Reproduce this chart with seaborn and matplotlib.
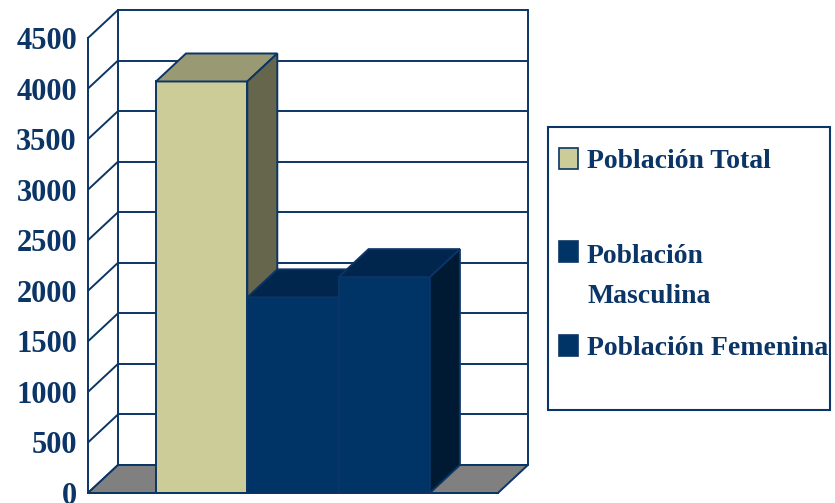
import matplotlib
matplotlib.use("Agg")
from matplotlib import pyplot as plt
from matplotlib.patches import Polygon, Rectangle
import seaborn as sns

# datos del grafico
categorias = ["Población Total", "Población Masculina", "Población Femenina"]
valores = [4070, 1935, 2135]
ticks_y = [0, 500, 1000, 1500, 2000, 2500, 3000, 3500, 4000, 4500]
leyenda = ["Población Total", "Población\nMasculina", "Población Femenina"]

colores_frente = ["#CCCC99", "#003366", "#003366"]
colores_tapa = ["#999973", "#00264D", "#00264D"]
colores_lado = ["#66664D", "#001A33", "#001A33"]
azul = "#0B3566"
gris_piso = "#808080"

sns.set_style("white")
plt.rcParams["font.family"] = ["Liberation Serif", "DejaVu Serif"]

W, H = 835, 503
fig = plt.figure(figsize=(W / 100, H / 100), dpi=100)
ax = fig.add_axes([88 / W, 10 / H, 440 / W, 483 / H])

sns.barplot(
    x=categorias,
    y=valores,
    hue=categorias,
    palette=colores_frente,
    width=1,
    saturation=1,
    legend=False,
    edgecolor=azul,
    linewidth=1.4,
    ax=ax,
)

# escala: 91.3 px por barra, 0.1011 px por unidad
px_x = 91.3
px_y = 455 / 4500
dx = 30 / px_x
dy = 28 / px_y
xf_l = -0.5 - 68 / px_x
xf_r = 2.5 + 68 / px_x
ax.set_xlim(xf_l, xf_l + 440 / px_x)
ax.set_ylim(0, 483 / px_y)

# paredes: fondo y lateral
lw = 1.4
for v in ticks_y:
    ax.plot([xf_l + dx, xf_r + dx], [v + dy, v + dy], color=azul, lw=lw, zorder=1, clip_on=False)
    ax.plot([xf_l, xf_l + dx], [v, v + dy], color=azul, lw=lw, zorder=1, clip_on=False)
ax.plot([xf_l + dx, xf_l + dx], [dy, 4500 + dy], color=azul, lw=lw, zorder=1, clip_on=False)
ax.plot([xf_r + dx, xf_r + dx], [dy, 4500 + dy], color=azul, lw=lw, zorder=1, clip_on=False)

# piso
ax.add_patch(Polygon([(xf_l, 0), (xf_r, 0), (xf_r + dx, dy), (xf_l + dx, dy)],
                     closed=True, facecolor=gris_piso, edgecolor=azul, lw=lw, zorder=1.5, clip_on=False))

# caras 3D de cada barra
for i, cont in enumerate(ax.containers):
    bar = cont[0]
    bar.set_zorder(3 + i)
    x0 = bar.get_x()
    x1 = x0 + bar.get_width()
    h = bar.get_height()
    tapa = Polygon([(x0, h), (x1, h), (x1 + dx, h + dy), (x0 + dx, h + dy)], closed=True,
                   facecolor=colores_tapa[i], edgecolor=azul, lw=lw, zorder=3.5 + i, clip_on=False)
    lado = Polygon([(x1, 0), (x1, h), (x1 + dx, h + dy), (x1 + dx, dy)], closed=True,
                   facecolor=colores_lado[i], edgecolor=azul, lw=lw, zorder=3.5 + i, clip_on=False)
    ax.add_patch(tapa)
    ax.add_patch(lado)

# ejes
for s in ["top", "right"]:
    ax.spines[s].set_visible(False)
ax.spines["left"].set_bounds(0, 4500)
ax.spines["bottom"].set_bounds(xf_l, xf_r)
for s in ["left", "bottom"]:
    ax.spines[s].set_color(azul)
    ax.spines[s].set_linewidth(lw)
    ax.spines[s].set_zorder(6)
ax.set_yticks(ticks_y)
ax.set_yticklabels([str(t) for t in ticks_y])
ax.set_xticks([xf_l, xf_r])
ax.set_xticklabels(["", ""])
ax.tick_params(axis="y", direction="out", length=5, width=lw, color=azul, pad=3,
               labelsize=22, labelcolor=azul)
ax.tick_params(axis="x", direction="out", length=10, width=lw, color=azul)
for t in ax.get_yticklabels():
    t.set_fontweight("bold")
ax.set_xlabel("")
ax.set_ylabel("")
ax.patch.set_alpha(0)

# leyenda manual
def fx(px):
    return px / W


def fy(py):
    return 1 - py / H


fig.add_artist(Rectangle((fx(548), fy(410)), fx(830) - fx(548), fy(127) - fy(410),
                         transform=fig.transFigure, facecolor="white", edgecolor=azul, lw=1.5))
cuadros = [148, 241, 335]
bases = [168, 263, 355]
for i, texto in enumerate(leyenda):
    fig.add_artist(Rectangle((fx(559), fy(cuadros[i] + 21)), fx(578) - fx(559), fy(cuadros[i]) - fy(cuadros[i] + 21),
                             transform=fig.transFigure, facecolor=colores_frente[i], edgecolor=azul, lw=1.2))
    lineas = texto.split("\n")
    for j, linea in enumerate(lineas):
        fig.text(fx(587), fy(bases[i] + j * 40), linea, color=azul, fontsize=20,
                 fontweight="bold", va="baseline", ha="left")

fig.savefig("out.png", dpi=100)
